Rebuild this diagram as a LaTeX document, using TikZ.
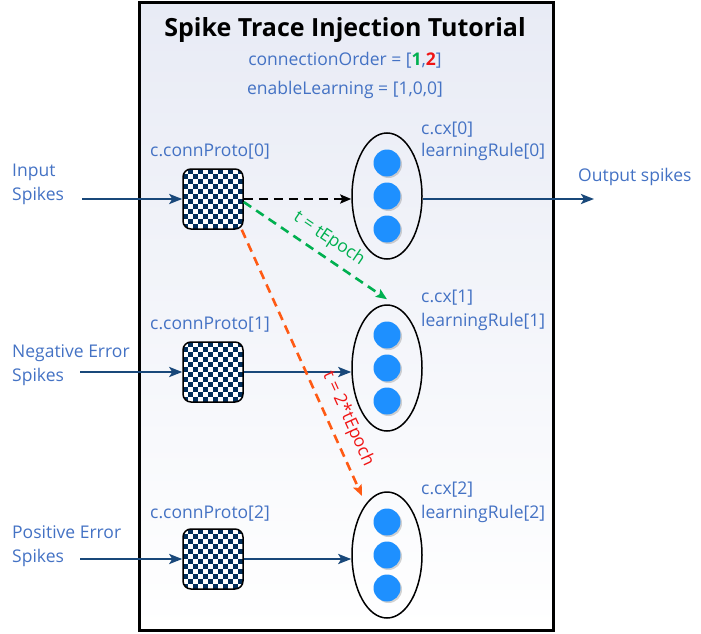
\documentclass[tikz,border=0pt]{standalone}
\usepackage{fontspec}
\setmainfont{Open Sans}
\usetikzlibrary{arrows.meta,calc,shapes.geometric,shadows}
\definecolor{lblue}{RGB}{68,114,196}
\definecolor{navy}{RGB}{25,72,122}
\definecolor{chk}{RGB}{0,45,90}
\definecolor{dotc}{RGB}{30,144,255}
\definecolor{grn}{RGB}{0,176,80}
\definecolor{org}{RGB}{255,90,20}
\definecolor{redt}{RGB}{240,20,20}
\definecolor{bgtop}{RGB}{232,235,245}
\tikzset{
  lbl/.style={text=lblue,font=\fontsize{17.5}{24}\selectfont,inner sep=0pt,align=left},
  cbox/.style={draw,line width=1.5pt,rounded corners=8pt,minimum size=60pt,inner sep=0pt,fill=white,
    path picture={
      \foreach \i in {0,...,11}{
        \foreach \j in {0,...,11}{
          \pgfmathtruncatemacro\pk{mod(\i+\j,2)}
          \ifnum\pk=0
            \fill[chk,sharp corners] ($(path picture bounding box.south west)+(\i*5pt,\j*5pt)$) rectangle ++(5pt,5pt);
          \fi
        }}
    }},
  ell/.style={ellipse,draw,line width=1.5pt,minimum width=70pt,minimum height=126pt,inner sep=0pt},
  neur/.style={circle,fill=dotc,minimum size=27pt,inner sep=0pt,
    drop shadow={shadow xshift=1.5pt,shadow yshift=-1.5pt,opacity=0.35}},
  navyarr/.style={draw=navy,line width=2.8pt,-{Stealth[length=13pt,width=10pt,inset=3pt]}},
  dasharr/.style={line width=2.6pt,dash pattern=on 9pt off 6pt,-{Stealth[length=11pt,width=9pt,inset=2pt]}},
  tlab/.style={font=\fontsize{17.5}{20}\selectfont,inner sep=0pt}
}
\begin{document}
\begin{tikzpicture}[x=1pt,y=-1pt]
\useasboundingbox (0,0) rectangle (701,634);
% frame
\fill[top color=bgtop,bottom color=white] (139,3) rectangle (553,630);
\draw[line width=3pt] (139,3) rectangle (553,630);
% title & info
\node[font=\bfseries\fontsize{25}{30}\selectfont] (title) at (345,30) {Spike Trace Injection Tutorial};
\node[lbl] (co) at (345,60) {connectionOrder = [\textcolor{grn}{\textbf{1}},\textcolor{redt}{\textbf{2}}]};
\node[lbl] (el) at (345,90) {enableLearning = [1,0,0]};
% boxes
\node[cbox] (b1) at (213,199) {};
\node[cbox] (b2) at (213,372) {};
\node[cbox] (b3) at (213,559) {};
\node[lbl] (cp0) at (210,152) {c.connProto[0]};
\node[lbl] (cp1) at (210,325) {c.connProto[1]};
\node[lbl] (cp2) at (210,514) {c.connProto[2]};
% ellipses
\foreach \k/\y in {1/196,2/368,3/555}{
  \node[ell] (e\k) at (387,\y) {};
  \node[neur] (n\k a) at (387,\y-33) {};
  \node[neur] (n\k b) at (387,\y) {};
  \node[neur] (n\k c) at (387,\y+33) {};
}
\node[lbl,anchor=west] (cx0) at (421,130) {c.cx[0]};
\node[lbl,anchor=west] (lr0) at (421,152) {learningRule[0]};
\node[lbl,anchor=west] (cx1) at (421,298) {c.cx[1]};
\node[lbl,anchor=west] (lr1) at (421,322) {learningRule[1]};
\node[lbl,anchor=west] (cx2) at (421,490) {c.cx[2]};
\node[lbl,anchor=west] (lr2) at (421,514) {learningRule[2]};
% left labels
\node[lbl,anchor=west] (inl) at (12,184) {Input\\Spikes};
\node[lbl,anchor=west] (negl) at (12,365) {Negative Error\\Spikes};
\node[lbl,anchor=west] (posl) at (12,546) {Positive Error\\Spikes};
\node[lbl,anchor=west] (outl) at (578,177) {Output spikes};
\coordinate (ins) at (82,199);
\coordinate (negs) at (80,372);
\coordinate (poss) at (80,559);
\coordinate (outs) at (594,199);
\coordinate (o3) at (362,496);
% connectors
\draw[navyarr] (ins) -- (b1.west);
\draw[navyarr] (negs) -- (b2.west);
\draw[navyarr] (poss) -- (b3.west);
\draw[navyarr] (b2.east) -- (b2.east -| e2.west);
\draw[navyarr] (b3.east) -- (b3.east -| e3.west);
\draw[navyarr] (b1.east -| e1.east) -- (outs);
\draw[dasharr,black] (b1.east) -- (b1.east -| e1.west);
\draw[dasharr,grn] ($(b1.east)+(0,3)$) -- ($(e2.north)+(0,-5)$);
\draw[dasharr,org] ($(b1.south east)+(-2,0)$) -- (o3);
\node[tlab,text=grn,rotate=-34] (tl1) at (329,239) {t = tEpoch};
\node[tlab,text=redt,rotate=-65.5] (tl2) at (348,419) {t = 2*tEpoch};
\end{tikzpicture}
\end{document}
